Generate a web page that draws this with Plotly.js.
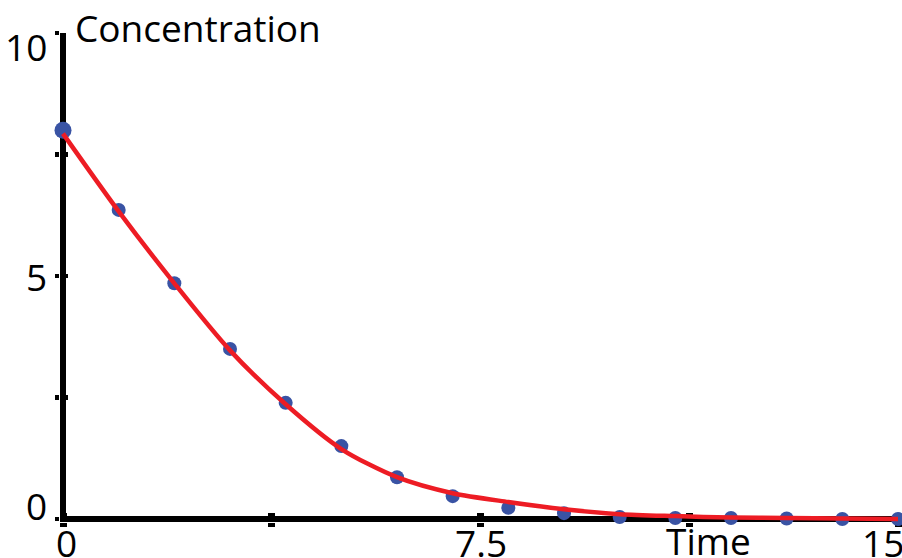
<!DOCTYPE html>
<html><head><meta charset="utf-8">
<script src="https://cdn.plot.ly/plotly-3.0.1.min.js"></script>
<style>html,body{margin:0;padding:0;background:#fff}#chart{width:902px;height:558px}</style>
</head><body><div id="chart"></div>
<script>
// ---- data ----
const timePoints = [0,1,2,3,4,5,6,7,8,9,10,11,12,13,14,15];
const measured   = [8.0,6.36,4.85,3.5,2.39,1.5,0.86,0.47,0.23,0.12,0.04,0.02,0.02,0.01,0.0,0.0];
const fitTime    = [0,1,2,3,4,5,6,7,8,9,10,11,12,13,14,15];
const fitted     = [7.93,6.33,4.85,3.47,2.36,1.44,0.86,0.53,0.35,0.2,0.1,0.06,0.03,0.02,0.01,0.0];
const xTickVals  = [0,3.75,7.5,11.25,15];
const yTickVals  = [0,2.5,5,7.5,10];
const xLabelVals = [0,7.5,15];
const xLabelText = ['0','7.5','15'];
const yLabelVals = [0,5,10];
const yLabelText = ['0','5','10'];
const xTitle = 'Time';
const yTitle = 'Concentration';

// ---- layout geometry ----
const W = 902, H = 558;
const M = {l:60, r:4, t:33, b:36, pad:0};
const plotW = W - M.l - M.r, plotH = H - M.t - M.b;
const LW = 6;              // thickness of the axis lines (drawn as zero lines)
const xMax = 15, yMax = 10;
// small negative range start so the zero lines sit fully inside the plot area
const xMin = -(LW/2) * xMax / (plotW - LW/2);
const yMin = -(LW/2) * yMax / (plotH - LW/2);
const FONT = {family:'Open Sans, sans-serif', size:37, color:'#000'};

const baseAxis = {
  showgrid:false, showline:false, zeroline:false,
  ticks:'outside', tickcolor:'#000', showticklabels:false,
  layer:'below traces', fixedrange:true
};

const annotations = [];
xLabelVals.forEach((v,i)=>{
  let xs = 0;
  if (v === Math.min(...xLabelVals)) xs = 3;
  if (v === Math.max(...xLabelVals)) xs = -15;
  annotations.push({xref:'x', yref:'paper', x:v, y:0, text:xLabelText[i], showarrow:false,
    xanchor:'center', yanchor:'middle', xshift:xs, yshift:-20, font:FONT});
});
yLabelVals.forEach((v,i)=>{
  let ys = 0;
  if (v === Math.min(...yLabelVals)) ys = 14;
  if (v === Math.max(...yLabelVals)) ys = -13.5;
  annotations.push({xref:'paper', yref:'y', x:0, y:v, text:yLabelText[i], showarrow:false,
    xanchor:'right', yanchor:'middle', xshift:-11, yshift:ys, font:FONT});
});
annotations.push({xref:'paper', yref:'paper', x:(708.5-M.l)/plotW, y:0, text:xTitle, showarrow:false,
  xanchor:'center', yanchor:'middle', yshift:-18, font:FONT});
annotations.push({xref:'paper', yref:'paper', x:(73-M.l)/plotW, y:1, text:yTitle, showarrow:false,
  xanchor:'left', yanchor:'middle', yshift:6, font:FONT});

const traces = [
  {x:timePoints, y:measured, type:'scatter', mode:'markers', cliponaxis:false,
   marker:{color:'#3953a4', opacity:1, line:{width:0},
           size:timePoints.map((t,i)=> i===0 ? 17 : 14)}, hoverinfo:'skip'},
  {x:fitTime, y:fitted, type:'scatter', mode:'lines', cliponaxis:false,
   line:{color:'#ed1c24', width:4.5, shape:'spline', smoothing:0.8}, hoverinfo:'skip'},
  // invisible helper trace so the overlay axes (inner part of the crossing ticks) render
  {x:[xMax], y:[yMax], xaxis:'x2', yaxis:'y2', type:'scatter', mode:'markers',
   marker:{opacity:0}, hoverinfo:'skip'}
];

const layout = {
  width:W, height:H, margin:M, showlegend:false,
  paper_bgcolor:'#fff', plot_bgcolor:'#fff',
  xaxis:Object.assign({}, baseAxis, {range:[xMin, xMax], tickvals:xTickVals, tickwidth:7, ticklen:4,
    zeroline:true, zerolinewidth:LW, zerolinecolor:'#000'}),
  yaxis:Object.assign({}, baseAxis, {range:[yMin, yMax], tickvals:yTickVals, tickwidth:4.5, ticklen:4,
    zeroline:true, zerolinewidth:LW, zerolinecolor:'#000'}),
  xaxis2:Object.assign({}, baseAxis, {range:[xMin, xMax], tickvals:xTickVals, tickwidth:7, ticklen:9,
    ticks:'inside', overlaying:'x', anchor:'y', side:'bottom'}),
  yaxis2:Object.assign({}, baseAxis, {range:[yMin, yMax], tickvals:yTickVals, tickwidth:4.5, ticklen:8,
    ticks:'inside', overlaying:'y', anchor:'x', side:'left'}),
  annotations:annotations
};

Plotly.newPlot('chart', traces, layout, {displayModeBar:false, staticPlot:true});
</script></body></html>
